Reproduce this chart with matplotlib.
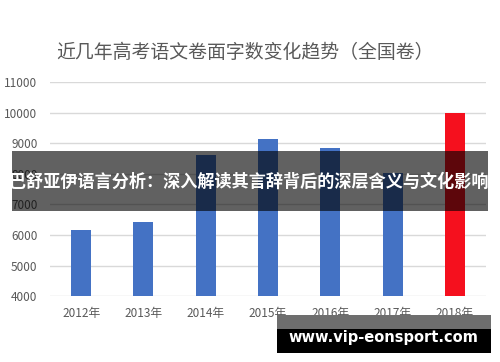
import matplotlib
matplotlib.use("Agg")
import matplotlib.pyplot as plt
from matplotlib.patches import Rectangle

plt.rcParams['font.family'] = ['Noto Sans CJK SC', 'DejaVu Sans']

title = "近几年高考语文卷面字数变化趋势（全国卷）"
categories = ["2012年", "2013年", "2014年", "2015年", "2016年", "2017年", "2018年"]
values = [6170, 6420, 8630, 9150, 8850, 8040, 10000]
bar_colors = ["#4472C4"] * 6 + ["#F5101E"]
yticks = [4000, 5000, 6000, 7000, 8000, 9000, 10000, 11000]
banner_text = "巴舒亚伊语言分析：深入解读其言辞背后的深层含义与文化影响"
watermark = "www.vip-eonsport.com"

fig = plt.figure(figsize=(5, 3.62), dpi=100)
ax = fig.add_axes([0.1, 0.182, 0.872, 0.591])
x = range(len(categories))
ax.bar(x, values, width=0.32, color=bar_colors, zorder=3)
ax.set_xlim(-0.5, len(categories) - 0.5)
ax.set_ylim(4000, 11000)
ax.set_yticks(yticks)
ax.set_yticklabels([str(v) for v in yticks])
ax.set_xticks(list(x))
ax.set_xticklabels(categories)
ax.grid(axis='y', color='#d9d9d9', linewidth=1, zorder=0)
for s in ax.spines.values():
    s.set_visible(False)
ax.tick_params(axis='both', length=0, labelsize=8.5, colors='#595959')
ax.tick_params(axis='y', pad=9)
ax.tick_params(axis='x', pad=8)

fig.text(0.489, 0.854, title, ha='center', va='center', fontsize=13.6, color='#595959')

# overlay banner
fig.patches.append(Rectangle((12 / 500, 1 - 211 / 362), 476 / 500, 60 / 362,
                             transform=fig.transFigure, facecolor='black', alpha=0.62,
                             edgecolor='none', zorder=10))
fig.text(249 / 500, 1 - 181.5 / 362, banner_text, ha='center', va='center', fontsize=12.3,
         fontweight='bold', color='white', zorder=11)

# watermark
fig.patches.append(Rectangle((277 / 500, 1 - 329 / 362), 214 / 500, 14 / 362,
                             transform=fig.transFigure, facecolor='#6e6e6e',
                             edgecolor='none', zorder=10))
fig.patches.append(Rectangle((277 / 500, 1 - 353 / 362), 214 / 500, 24.5 / 362,
                             transform=fig.transFigure, facecolor='black',
                             edgecolor='none', zorder=10))
fig.text(383.5 / 500, 1 - 337.5 / 362, watermark, ha='center', va='center',
         fontsize=10.5, fontweight='bold', color='white', family='DejaVu Sans', zorder=11)

fig.savefig("out.png", dpi=100)
